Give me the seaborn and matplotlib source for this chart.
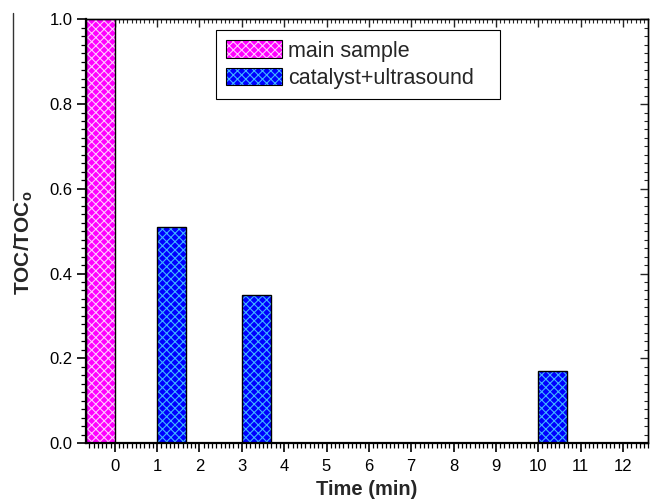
import matplotlib
matplotlib.use("Agg")
import matplotlib.pyplot as plt
from matplotlib.patches import Rectangle, Patch
from matplotlib.legend_handler import HandlerTuple
from matplotlib.lines import Line2D
from matplotlib.ticker import MultipleLocator, FormatStrFormatter
import seaborn as sns
import pandas as pd

# ---- data ----
time_min = [0, 1, 3, 10]
toc_ratio = [1.0, 0.51, 0.35, 0.17]
series = ["main sample", "catalyst+ultrasound", "catalyst+ultrasound", "catalyst+ultrasound"]
series_order = ["main sample", "catalyst+ultrasound"]
x_ticks = list(range(0, 13))
y_ticks = [0.0, 0.2, 0.4, 0.6, 0.8, 1.0]

face_colors = {"main sample": "#ff00ff", "catalyst+ultrasound": "#0000ff"}
hatch_colors = {"main sample": "#ffc8ff", "catalyst+ultrasound": "#3fb4ff"}

sns.set_style("ticks")
plt.rcParams["font.family"] = ["Liberation Sans", "DejaVu Sans"]
plt.rcParams["mathtext.fontset"] = "custom"
plt.rcParams["mathtext.rm"] = "Liberation Sans"
plt.rcParams["mathtext.bf"] = "Liberation Sans:bold"
plt.rcParams["hatch.linewidth"] = 0.8

df = pd.DataFrame({"time": time_min, "toc": toc_ratio, "series": series})

fig = plt.figure(figsize=(6.5, 4.99), dpi=100)
ax = fig.add_axes([86 / 650, 56 / 499, 562.3 / 650, 423.7 / 499])

sns.barplot(data=df, x="time", y="toc", hue="series", hue_order=series_order,
            palette=face_colors, native_scale=True, dodge=True, width=1.36,
            gap=0, saturation=1, errorbar=None, legend=False, ax=ax)

# Hatch + outline every bar
bar_patches = [p for p in ax.patches if isinstance(p, Rectangle)]
for p in bar_patches:
    fc = p.get_facecolor()
    key = "main sample" if fc[0] > 0.5 else "catalyst+ultrasound"
    p.set_hatch("xxxx")
    p.set_edgecolor(hatch_colors[key])
    p.set_linewidth(0)
    ax.add_patch(Rectangle(p.get_xy(), p.get_width(), p.get_height(),
                           fill=False, edgecolor="black", linewidth=1.0, zorder=p.get_zorder() + 0.1))

ax.set_xlim(-0.68, 12.6)
ax.set_ylim(0, 1.0)
ax.set_xticks(x_ticks)
ax.set_yticks(y_ticks)
ax.xaxis.set_minor_locator(MultipleLocator(0.1))
ax.yaxis.set_minor_locator(MultipleLocator(0.02))
ax.yaxis.set_major_formatter(FormatStrFormatter("%.1f"))

for s in ["left", "bottom"]:
    ax.spines[s].set_linewidth(1.6)
    ax.spines[s].set_color("black")
for s in ["top", "right"]:
    ax.spines[s].set_visible(True)
    ax.spines[s].set_linewidth(1.0)
    ax.spines[s].set_color("black")

ax.tick_params(axis="both", which="major", direction="out", length=6.5, width=1.2,
               labelsize=12, colors="black")
ax.tick_params(axis="x", which="major", pad=5)
ax.tick_params(axis="y", which="major", pad=3)
ax.tick_params(axis="both", which="minor", direction="out", length=3.5, width=0.9, colors="black")

# mirrored top / right ticks pointing inward
sec_x = ax.secondary_xaxis("top")
sec_x.set_xticks(x_ticks)
sec_x.xaxis.set_minor_locator(MultipleLocator(0.1))
sec_x.tick_params(which="major", direction="in", length=6, width=1.0, labeltop=False)
sec_x.tick_params(which="minor", direction="in", length=3, width=0.8)
sec_x.spines["top"].set_linewidth(1.0)

sec_y = ax.secondary_yaxis("right")
sec_y.set_yticks(y_ticks)
sec_y.yaxis.set_minor_locator(MultipleLocator(0.02))
sec_y.tick_params(which="major", direction="in", length=6, width=1.0, labelright=False)
sec_y.tick_params(which="minor", direction="in", length=3, width=0.8)
sec_y.spines["right"].set_linewidth(1.0)

ax.set_xlabel("Time (min)", fontsize=14.5, fontweight="bold", labelpad=4)
ax.set_ylabel(r"TOC/TOC$_\mathbf{o}$", fontsize=15, fontweight="bold")
ax.yaxis.set_label_coords(-0.09, 0.472)

# legend
handles = []
for name in series_order:
    handles.append((Patch(facecolor=face_colors[name], edgecolor="none", linewidth=0),
                    Patch(facecolor="none", edgecolor=hatch_colors[name], hatch="xxxx", linewidth=0),
                    Patch(facecolor="none", edgecolor="black", linewidth=0.8)))
leg = ax.legend(handles, series_order, handler_map={tuple: HandlerTuple(ndivide=1)},
                loc="upper left", bbox_to_anchor=(0.2307, 0.6, 0.5056, 0.375), mode="expand",
                borderaxespad=0, fontsize=15.5, frameon=True, fancybox=False,
                edgecolor="black", framealpha=1, handlelength=2.6, handleheight=0.9,
                handletextpad=0.3, labelspacing=0.28, borderpad=0.48)
leg.get_frame().set_linewidth(0.8)

# stray vertical rule at the far left of the figure
fig.add_artist(Line2D([12.5 / 650, 12.5 / 650], [1 - 13 / 499, 1 - 200 / 499],
                      transform=fig.transFigure, color="#333333", linewidth=1.0))

fig.savefig("out.png", dpi=100)
